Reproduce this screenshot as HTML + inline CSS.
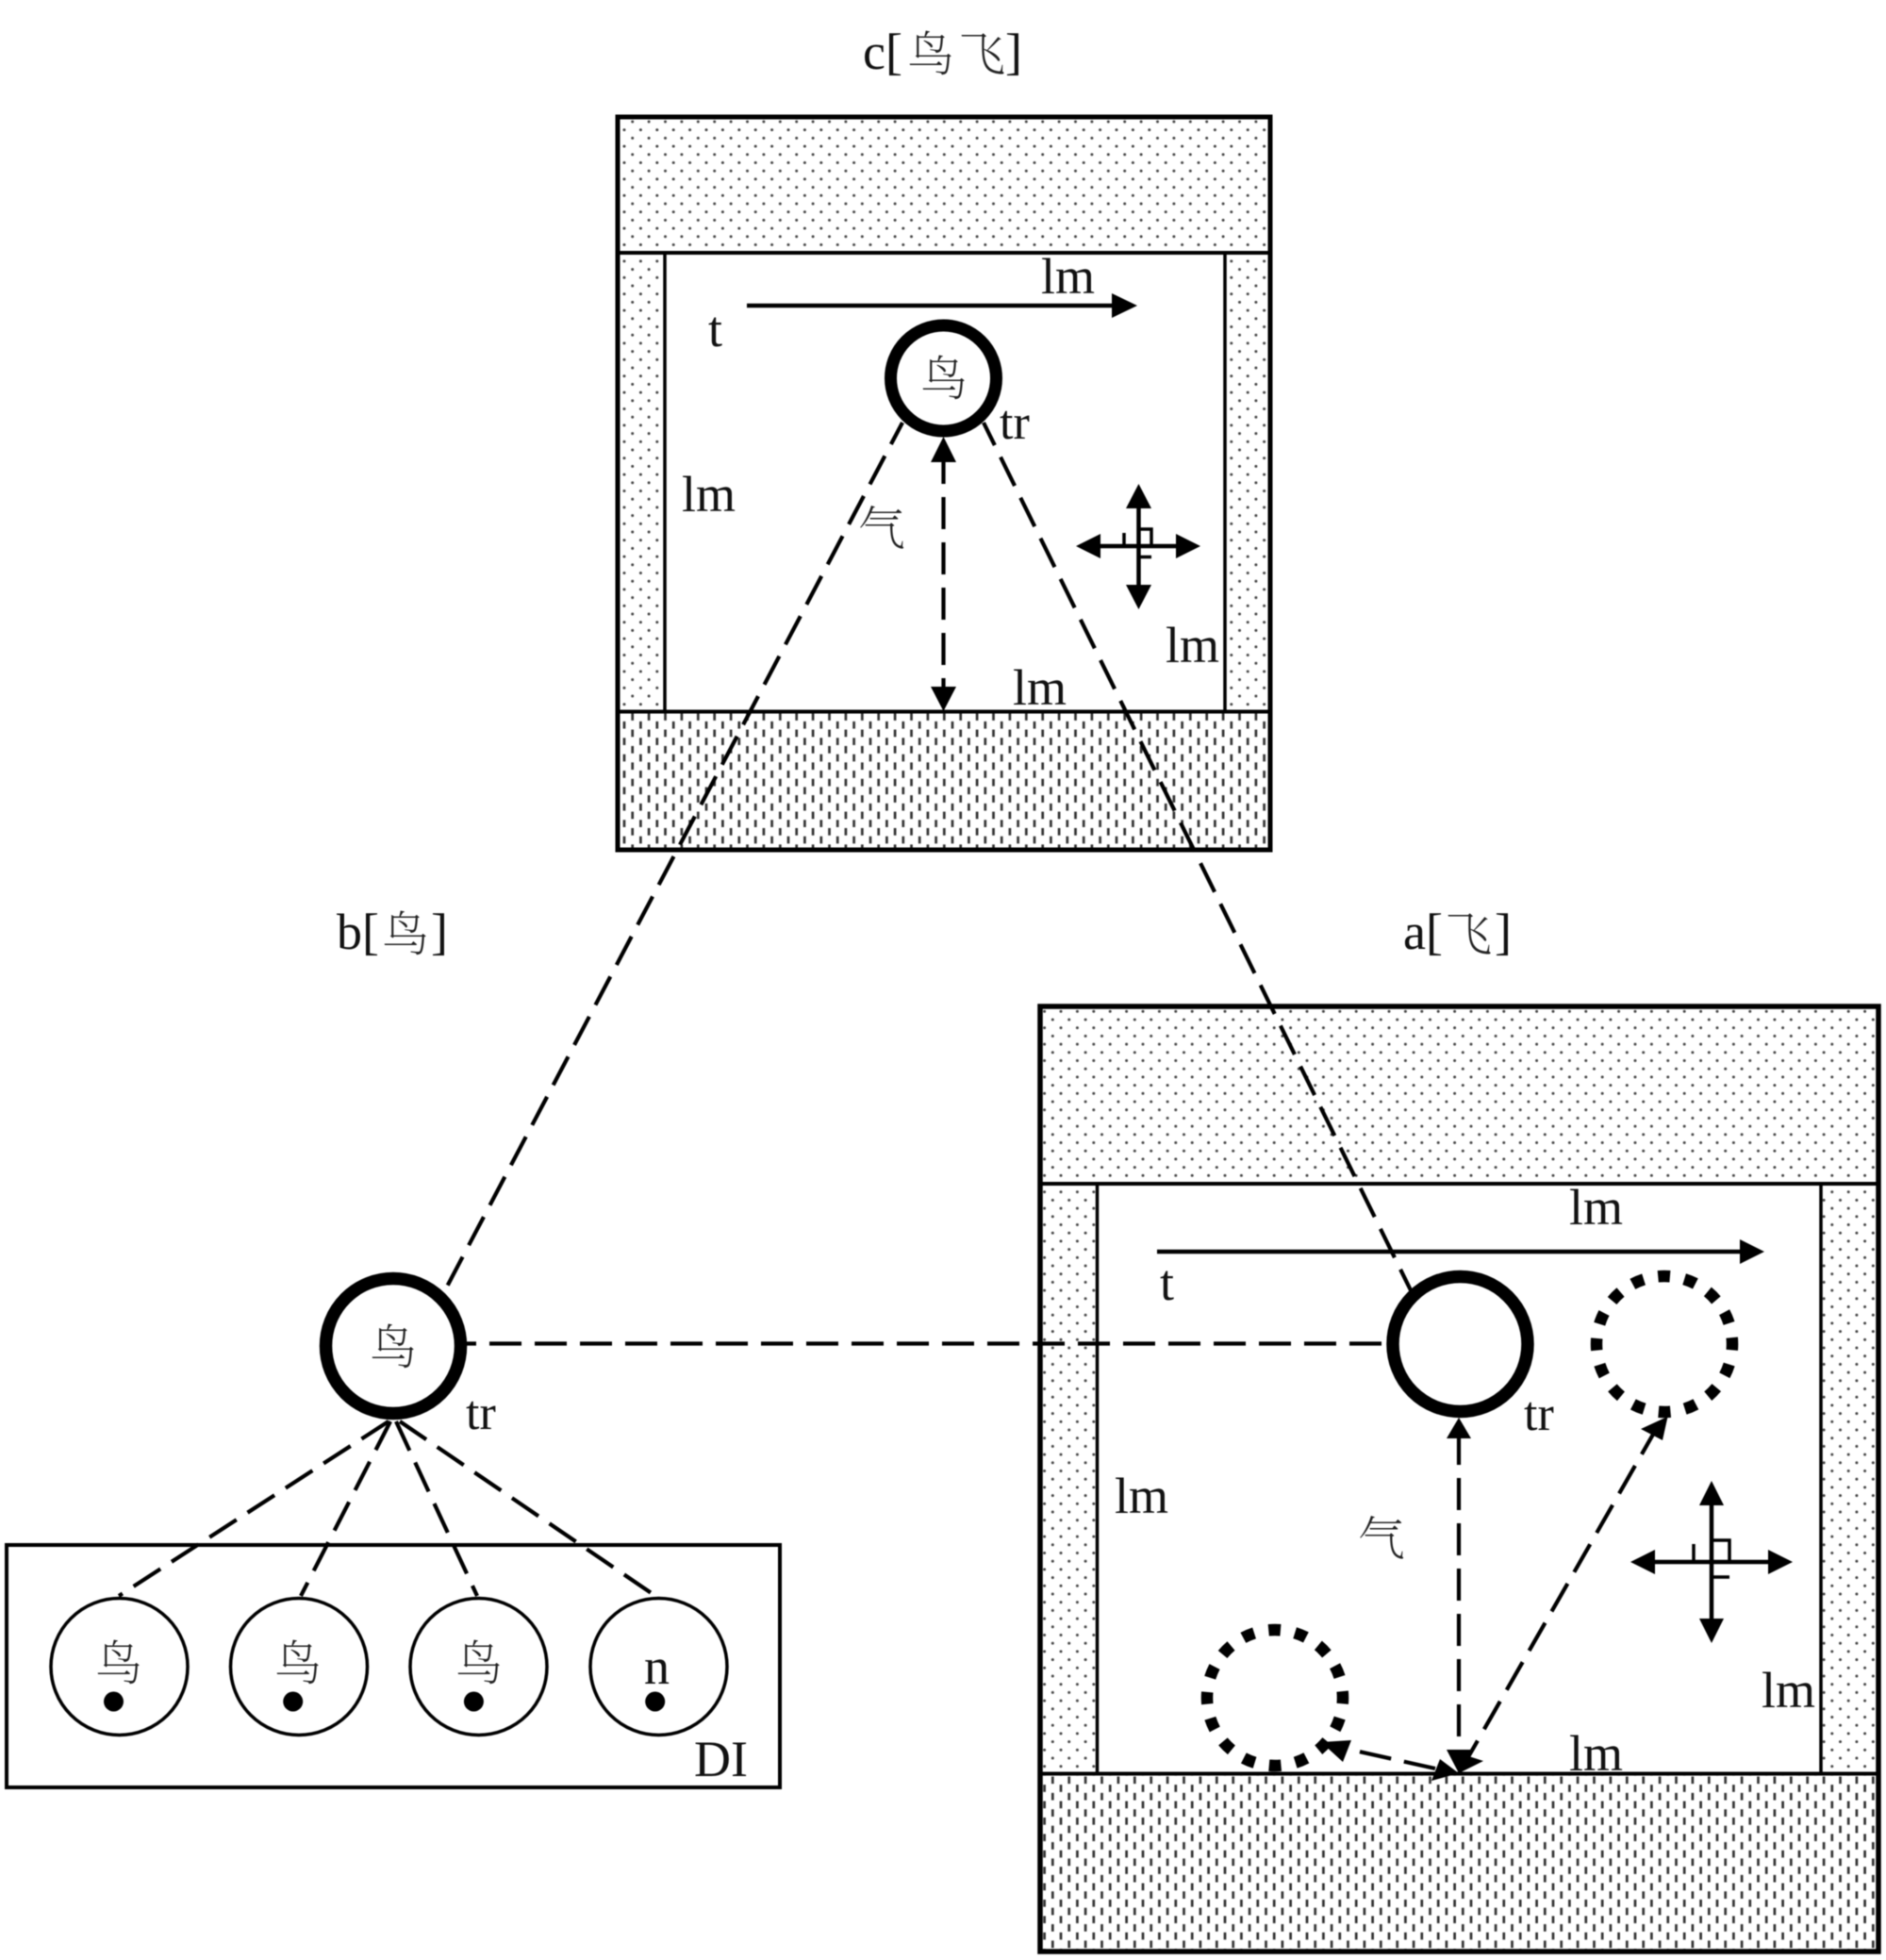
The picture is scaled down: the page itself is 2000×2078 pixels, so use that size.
<!DOCTYPE html>
<html><head><meta charset="utf-8"><style>
html,body{margin:0;padding:0;background:#fff;width:2000px;height:2078px;overflow:hidden}
svg{display:block;filter:blur(.5px)}
.l{font-family:"Liberation Serif",serif;font-size:54px;fill:#111}
.t{font-size:52px}
.c{font-family:"Noto Serif CJK SC","Liberation Serif",serif;font-size:50px;font-weight:200;fill:#222}
.d{fill:none;stroke:#000;stroke-width:4.2;stroke-dasharray:34 14}
</style></head><body>
<svg width="2000" height="2078" viewBox="0 0 2000 2078" xmlns="http://www.w3.org/2000/svg">
<defs>
<g id="dt"><circle cx="13.05" cy="4.35" r="1.5" fill="#444"/><circle cx="4.35" cy="13.05" r="1.5" fill="#444"/></g>
<g id="ds"><rect x="11.7" y="0.5" width="2.7" height="7.7" fill="#333"/><rect x="3" y="9.2" width="2.7" height="7.7" fill="#333"/></g>
<pattern id="cd" patternUnits="userSpaceOnUse" x="657.65" y="124.65" width="17.4" height="17.4"><use href="#dt"/></pattern>
<pattern id="cs" patternUnits="userSpaceOnUse" x="657.65" y="755.65" width="17.4" height="17.4"><use href="#ds"/></pattern>
<pattern id="ad" patternUnits="userSpaceOnUse" x="1111.95" y="1067.95" width="17.4" height="17.4"><use href="#dt"/></pattern>
<pattern id="as" patternUnits="userSpaceOnUse" x="1111.95" y="1891.65" width="17.4" height="17.4"><use href="#ds"/></pattern>
</defs>
<rect width="2000" height="2078" fill="#fff"/>

<!-- Frame c -->
<rect x="654" y="124" width="693" height="777" fill="url(#cd)"/>
<rect x="654" y="754" width="693" height="147" fill="#fff"/>
<rect x="654" y="754" width="693" height="147" fill="url(#cs)"/>
<rect x="705" y="268" width="594" height="486" fill="#fff"/>
<g fill="none" stroke="#000">
<rect x="655" y="124" width="692" height="777" stroke-width="5"/>
<path d="M655 268H1347M655 754.5H1347" stroke-width="4"/>
<path d="M705 268V754M1299 268V754" stroke-width="3.5"/>
</g>

<!-- Frame a -->
<rect x="1103" y="1067" width="889" height="1001" fill="url(#ad)"/>
<rect x="1103" y="1880" width="889" height="188" fill="#fff"/>
<rect x="1103" y="1880" width="889" height="188" fill="url(#as)"/>
<rect x="1163" y="1254" width="768" height="626" fill="#fff"/>
<g fill="none" stroke="#000">
<rect x="1103" y="1067" width="889" height="1002" stroke-width="5.5"/>
<path d="M1103 1255H1992M1103 1880.5H1992" stroke-width="4"/>
<path d="M1163.5 1255V1880M1931 1255V1880" stroke-width="3.5"/>
</g>

<!-- DI box -->
<rect x="7" y="1638" width="820" height="257" fill="#fff" stroke="#000" stroke-width="4"/>

<!-- Dashed connectors -->
<path class="d" d="M957 448L474 1364" stroke-dashoffset="8"/>
<path class="d" d="M1043 448L1496 1368" stroke-dashoffset="7.2"/>
<path class="d" d="M490 1424.5L1472 1424.5" stroke-dashoffset="19"/>
<path class="d" d="M412 1507L126 1692"/>
<path class="d" d="M414 1507L319 1692"/>
<path class="d" d="M420 1507L506 1692"/>
<path class="d" d="M424 1507L695 1692"/>

<!-- Main circles -->
<circle cx="1000.5" cy="401" r="56" fill="#fff" stroke="#000" stroke-width="13"/>
<circle cx="417" cy="1427" r="71.5" fill="#fff" stroke="#000" stroke-width="13.5"/>
<circle cx="1548.5" cy="1425" r="71.5" fill="#fff" stroke="#000" stroke-width="13.5"/>

<!-- Dotted circles -->
<circle cx="1765" cy="1425" r="72" fill="none" stroke="#000" stroke-width="12.5" pathLength="16" stroke-dasharray=".45 .55" stroke-dashoffset=".225"/>
<circle cx="1352" cy="1800" r="72" fill="none" stroke="#000" stroke-width="12.5" pathLength="16" stroke-dasharray=".45 .55" stroke-dashoffset=".225"/>

<!-- Small circles -->
<g fill="#fff" stroke="#000" stroke-width="3.5">
<circle cx="126.5" cy="1767" r="72.5"/><circle cx="317" cy="1767" r="72.5"/><circle cx="507.5" cy="1767" r="72.5"/><circle cx="698.5" cy="1767" r="72.5"/>
</g>
<g fill="#000">
<circle cx="120.5" cy="1804" r="10.5"/><circle cx="310.7" cy="1804" r="10.5"/><circle cx="502.4" cy="1804" r="10.5"/><circle cx="694.7" cy="1804" r="10.5"/>
</g>

<!-- Arrows frame c -->
<g stroke="#000" fill="none" stroke-width="4.5"><path d="M792 324H1182"/></g>
<polygon points="1206,324 1179,311 1179,337"/>
<path class="d" d="M1000.5 479V735"/>
<polygon points="1000.5,463 987,490 1014,490"/>
<polygon points="1000.5,754 987,728 1014,728"/>
<g stroke="#000" fill="none" stroke-width="4.5">
<path d="M1207.5 530V630M1160 579H1255"/>
<path d="M1207.5 561H1221V579M1192 565V579M1207.5 590.5H1221" stroke-width="3.5"/>
</g>
<polygon points="1207.5,513 1194,539 1221,539"/>
<polygon points="1207.5,646 1194,620 1221,620"/>
<polygon points="1141,579 1167,566 1167,592"/>
<polygon points="1273,579 1247,566 1247,592"/>

<!-- Arrows frame a -->
<g stroke="#000" fill="none" stroke-width="4.5"><path d="M1227 1327H1848"/></g>
<polygon points="1871,1327 1845,1314 1845,1340"/>
<path class="d" d="M1547 1519V1860"/>
<polygon points="1547,1503 1534,1525 1560,1525"/>
<polygon points="1547,1880 1534,1855 1560,1855"/>
<path class="d" d="M1550 1875L1758 1512"/>
<polygon points="1768.6,1501.7 1740,1515 1763,1527"/>
<polygon points="1547,1880 1536,1855 1573,1867"/>
<path class="d" d="M1522 1875L1423 1853" stroke-dasharray="30 12" stroke-width="4.5"/>
<polygon points="1401,1847 1424,1868 1433,1845"/>
<polygon points="1547,1880 1518,1888 1527,1865"/>
<g stroke="#000" fill="none" stroke-width="4.5">
<path d="M1815 1590V1725M1751 1656H1881"/>
<path d="M1815 1633H1834V1656M1796 1637V1656M1815 1672H1834" stroke-width="3.5"/>
</g>
<polygon points="1815,1570 1802,1596 1828,1596"/>
<polygon points="1815,1742 1802,1716 1828,1716"/>
<polygon points="1729,1656 1755,1643 1755,1669"/>
<polygon points="1901,1656 1875,1643 1875,1669"/>

<!-- Latin text -->
<g class="l">
<text class="l" x="915" y="73">c</text><text class="l" x="939" y="73">[</text><text class="l" x="1066" y="73">]</text>
<text class="l" x="357" y="1006">b</text><text class="l" x="384" y="1006">[</text><text class="l" x="457" y="1006">]</text>
<text class="l" x="1488" y="1006">a</text><text class="l" x="1512" y="1006">[</text><text class="l" x="1585" y="1006">]</text>
<text class="l" x="1104" y="311">lm</text>
<text class="l" x="751" y="367">t</text>
<text class="l t" x="1060" y="465">tr</text>
<text class="l" x="723" y="542">lm</text>
<text class="l" x="1236" y="702">lm</text>
<text class="l" x="1074" y="747">lm</text>
<text class="l" x="1664" y="1298">lm</text>
<text class="l" x="1230" y="1378">t</text>
<text class="l t" x="1616" y="1516">tr</text>
<text class="l t" x="494" y="1515">tr</text>
<text class="l" x="1182" y="1604">lm</text>
<text class="l" x="1868" y="1810">lm</text>
<text class="l" x="1664" y="1877">lm</text>
<text class="l" x="683" y="1785">n</text>
<text class="l" x="736" y="1883">DI</text>
</g>

<!-- CJK text -->
<text class="c" x="962" y="75">鸟</text><text class="c" x="1016" y="75">飞</text>
<text class="c" x="405" y="1008">鸟</text>
<text class="c" x="1532" y="1008">飞</text>
<text class="c" x="976" y="419">鸟</text>
<text class="c" x="392" y="1446">鸟</text>
<text class="c" x="101" y="1781">鸟</text>
<text class="c" x="291" y="1781">鸟</text>
<text class="c" x="483" y="1781">鸟</text>
<text class="c" x="910" y="578">气</text>
<text class="c" x="1440" y="1649">气</text>
</svg>
</body></html>
